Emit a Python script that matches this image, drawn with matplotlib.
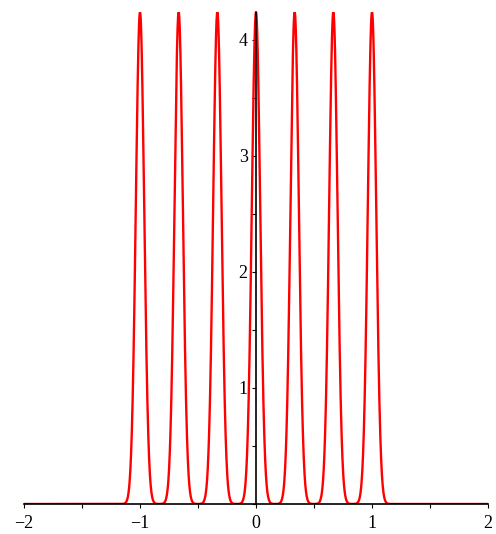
import numpy as np
import matplotlib as mpl
mpl.use("Agg")
import matplotlib.pyplot as plt
from matplotlib.ticker import MultipleLocator

# peak positions / shape
centers = [-1.0, -2/3, -1/3, 0.0, 1/3, 2/3, 1.0]
peak_height = 4.24
peak_sigma = 0.036
x_ticks = [-2, -1, 0, 1, 2]
y_ticks = [1, 2, 3, 4]

x = np.linspace(-2, 2, 4001)
y = np.zeros_like(x)
for c in centers:
    y += peak_height * np.exp(-(x - c) ** 2 / (2 * peak_sigma ** 2))

plt.rcParams['font.family'] = ['Liberation Serif', 'DejaVu Serif']

fig = plt.figure(figsize=(4.96, 5.34), dpi=100)
ax = fig.add_axes([24/496, 30/534, 464/496, 492/534])
ax.plot(x, y, color='#ff0000', lw=1.7, zorder=2)

ax.set_xlim(-2, 2)
ax.set_ylim(0, peak_height)
ax.spines['left'].set_position(('data', 0))
ax.spines['bottom'].set_position(('data', 0))
ax.spines['top'].set_visible(False)
ax.spines['right'].set_visible(False)
for s in ('left', 'bottom'):
    ax.spines[s].set_linewidth(1.2)
    ax.spines[s].set_zorder(3)

ax.set_xticks(x_ticks)
ax.set_yticks(y_ticks)
ax.xaxis.set_minor_locator(MultipleLocator(0.5))
ax.yaxis.set_minor_locator(MultipleLocator(0.5))
ax.tick_params(which='both', direction='out', length=3, width=0.8, labelsize=13)
ax.tick_params(axis='x', pad=5)
ax.tick_params(axis='y', pad=3)

fig.savefig("out.png", dpi=100)
